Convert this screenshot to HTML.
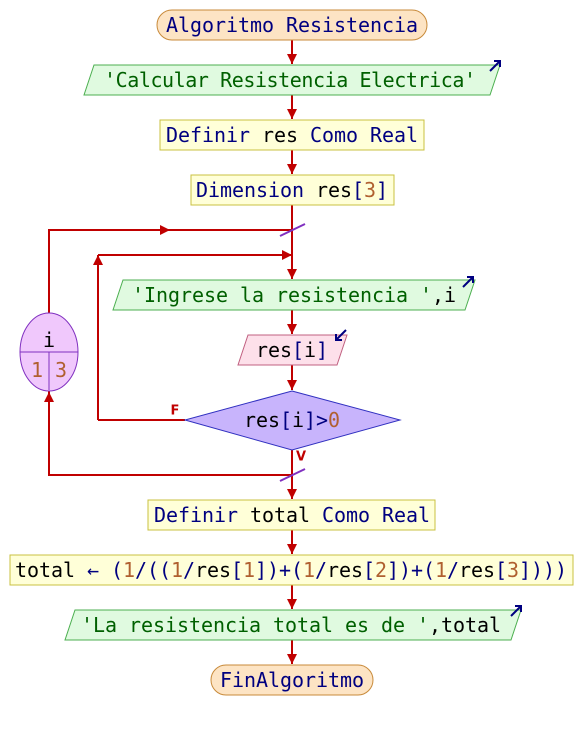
<!DOCTYPE html>
<html><head><meta charset="utf-8"><style>
html,body{margin:0;padding:0;background:#fff}
svg{display:block}
text{font-family:"DejaVu Sans Mono","Liberation Mono",monospace;font-size:20px;dominant-baseline:central;text-anchor:middle}
.k{fill:#000080}.s{fill:#006000}.n{fill:#b06030}.v{fill:#000}
</style></head><body>
<svg width="584" height="730" viewBox="0 0 584 730" xmlns="http://www.w3.org/2000/svg">
<defs>
<marker id="a" viewBox="0 0 10 10" refX="10" refY="5" markerWidth="5" markerHeight="5" orient="auto"><path d="M0,0L10,5L0,10z" fill="#c00000"/></marker>
</defs>
<g stroke="#c00000" stroke-width="2" fill="none">
<line x1="292" y1="40" x2="292" y2="64" marker-end="url(#a)"/>
<line x1="292" y1="95" x2="292" y2="119" marker-end="url(#a)"/>
<line x1="292" y1="150" x2="292" y2="174" marker-end="url(#a)"/>
<line x1="292" y1="205" x2="292" y2="279" marker-end="url(#a)"/>
<line x1="292" y1="310" x2="292" y2="334" marker-end="url(#a)"/>
<line x1="292" y1="365" x2="292" y2="390" marker-end="url(#a)"/>
<line x1="292" y1="450" x2="292" y2="499" marker-end="url(#a)"/>
<line x1="292" y1="530" x2="292" y2="554" marker-end="url(#a)"/>
<line x1="292" y1="585" x2="292" y2="609" marker-end="url(#a)"/>
<line x1="292" y1="640" x2="292" y2="664" marker-end="url(#a)"/>
<polyline points="49,313 49,230 292,230"/>
<line x1="49" y1="230" x2="170" y2="230" marker-end="url(#a)"/>
<line x1="185" y1="420" x2="98" y2="420"/>
<line x1="98" y1="420" x2="98" y2="255" marker-end="url(#a)"/>
<line x1="98" y1="255" x2="292" y2="255" marker-end="url(#a)"/>
<polyline points="292,475 49,475 49,391"/>
<line x1="49" y1="475" x2="49" y2="392" marker-end="url(#a)"/>
</g>
<g stroke="#8030c0" stroke-width="2"><line x1="280" y1="236" x2="305" y2="224"/><line x1="280" y1="481" x2="305" y2="469"/></g>
<text x="175" y="411" style="font-size:13px;font-weight:bold;font-family:'DejaVu Sans',sans-serif;fill:#c00000">F</text>
<text x="301" y="457" style="font-size:13px;font-weight:bold;font-family:'DejaVu Sans',sans-serif;fill:#c00000">V</text>

<rect x="157" y="10" width="270" height="30" rx="15" fill="#fde4c4" stroke="#c88a3a"/>
<text x="292" y="25" class="k" textLength="252">Algoritmo Resistencia</text>

<polygon points="94,65 500,65 490,95 84,95" fill="#e0fae0" stroke="#4caf50"/>
<text x="290" y="80" class="s" textLength="372">'Calcular Resistencia Electrica'</text>
<path d="M490,71L500,61M494,61L500,61L500,67" stroke="#000080" stroke-width="2" fill="none"/>

<rect x="160" y="120" width="264" height="30" fill="#ffffd8" stroke="#c8c040"/>
<text x="292" y="135" class="k" textLength="252">Definir <tspan class="v">res</tspan> Como Real</text>

<rect x="191" y="175" width="203" height="30" fill="#ffffd8" stroke="#c8c040"/>
<text x="292" y="190" class="k" textLength="192">Dimension <tspan class="v">res</tspan>[<tspan class="n">3</tspan>]</text>

<polygon points="123,280 475,280 465,310 113,310" fill="#e0fae0" stroke="#4caf50"/>
<text x="294" y="295" class="s" textLength="324">'Ingrese la resistencia '<tspan class="v">,i</tspan></text>
<path d="M463,287L473,277M467,277L473,277L473,283" stroke="#000080" stroke-width="2" fill="none"/>

<polygon points="248,335 347,335 337,365 238,365" fill="#fde0ea" stroke="#c06080"/>
<text x="292" y="350" class="v" textLength="72">res<tspan class="k">[</tspan>i<tspan class="k">]</tspan></text>
<path d="M346,330L336,340M336,334L336,340L342,340" stroke="#000080" stroke-width="2" fill="none"/>

<polygon points="292,391 400,420 292,450 185,420" fill="#c8b4fc" stroke="#3030c0"/>
<text x="292" y="420" class="v" textLength="96">res<tspan class="k">[</tspan>i<tspan class="k">]&gt;</tspan><tspan class="n">0</tspan></text>

<ellipse cx="49" cy="352" rx="29" ry="39" fill="#f0c8fc" stroke="#8030c0"/>
<line x1="20" y1="352" x2="78" y2="352" stroke="#8030c0"/>
<line x1="49" y1="352" x2="49" y2="390" stroke="#8030c0"/>
<text x="49" y="340" class="v">i</text>
<text x="37" y="370" class="n">1</text>
<text x="61" y="370" class="n">3</text>

<rect x="148" y="500" width="287" height="30" fill="#ffffd8" stroke="#c8c040"/>
<text x="292" y="515" class="k" textLength="276">Definir <tspan class="v">total</tspan> Como Real</text>

<rect x="10" y="555" width="563" height="30" fill="#ffffd8" stroke="#c8c040"/>
<text x="291" y="570" class="k" textLength="552"><tspan class="v">total</tspan> ← (<tspan class="n">1</tspan>/((<tspan class="n">1</tspan>/<tspan class="v">res</tspan>[<tspan class="n">1</tspan>])+(<tspan class="n">1</tspan>/<tspan class="v">res</tspan>[<tspan class="n">2</tspan>])+(<tspan class="n">1</tspan>/<tspan class="v">res</tspan>[<tspan class="n">3</tspan>])))</text>

<polygon points="75,610 521,610 511,640 65,640" fill="#e0fae0" stroke="#4caf50"/>
<text x="291" y="625" class="s" textLength="420">'La resistencia total es de '<tspan class="v">,total</tspan></text>
<path d="M511,616L521,606M515,606L521,606L521,612" stroke="#000080" stroke-width="2" fill="none"/>

<rect x="211" y="665" width="162" height="30" rx="15" fill="#fde4c4" stroke="#c88a3a"/>
<text x="292" y="680" class="k" textLength="144">FinAlgoritmo</text>
</svg>
</body></html>
